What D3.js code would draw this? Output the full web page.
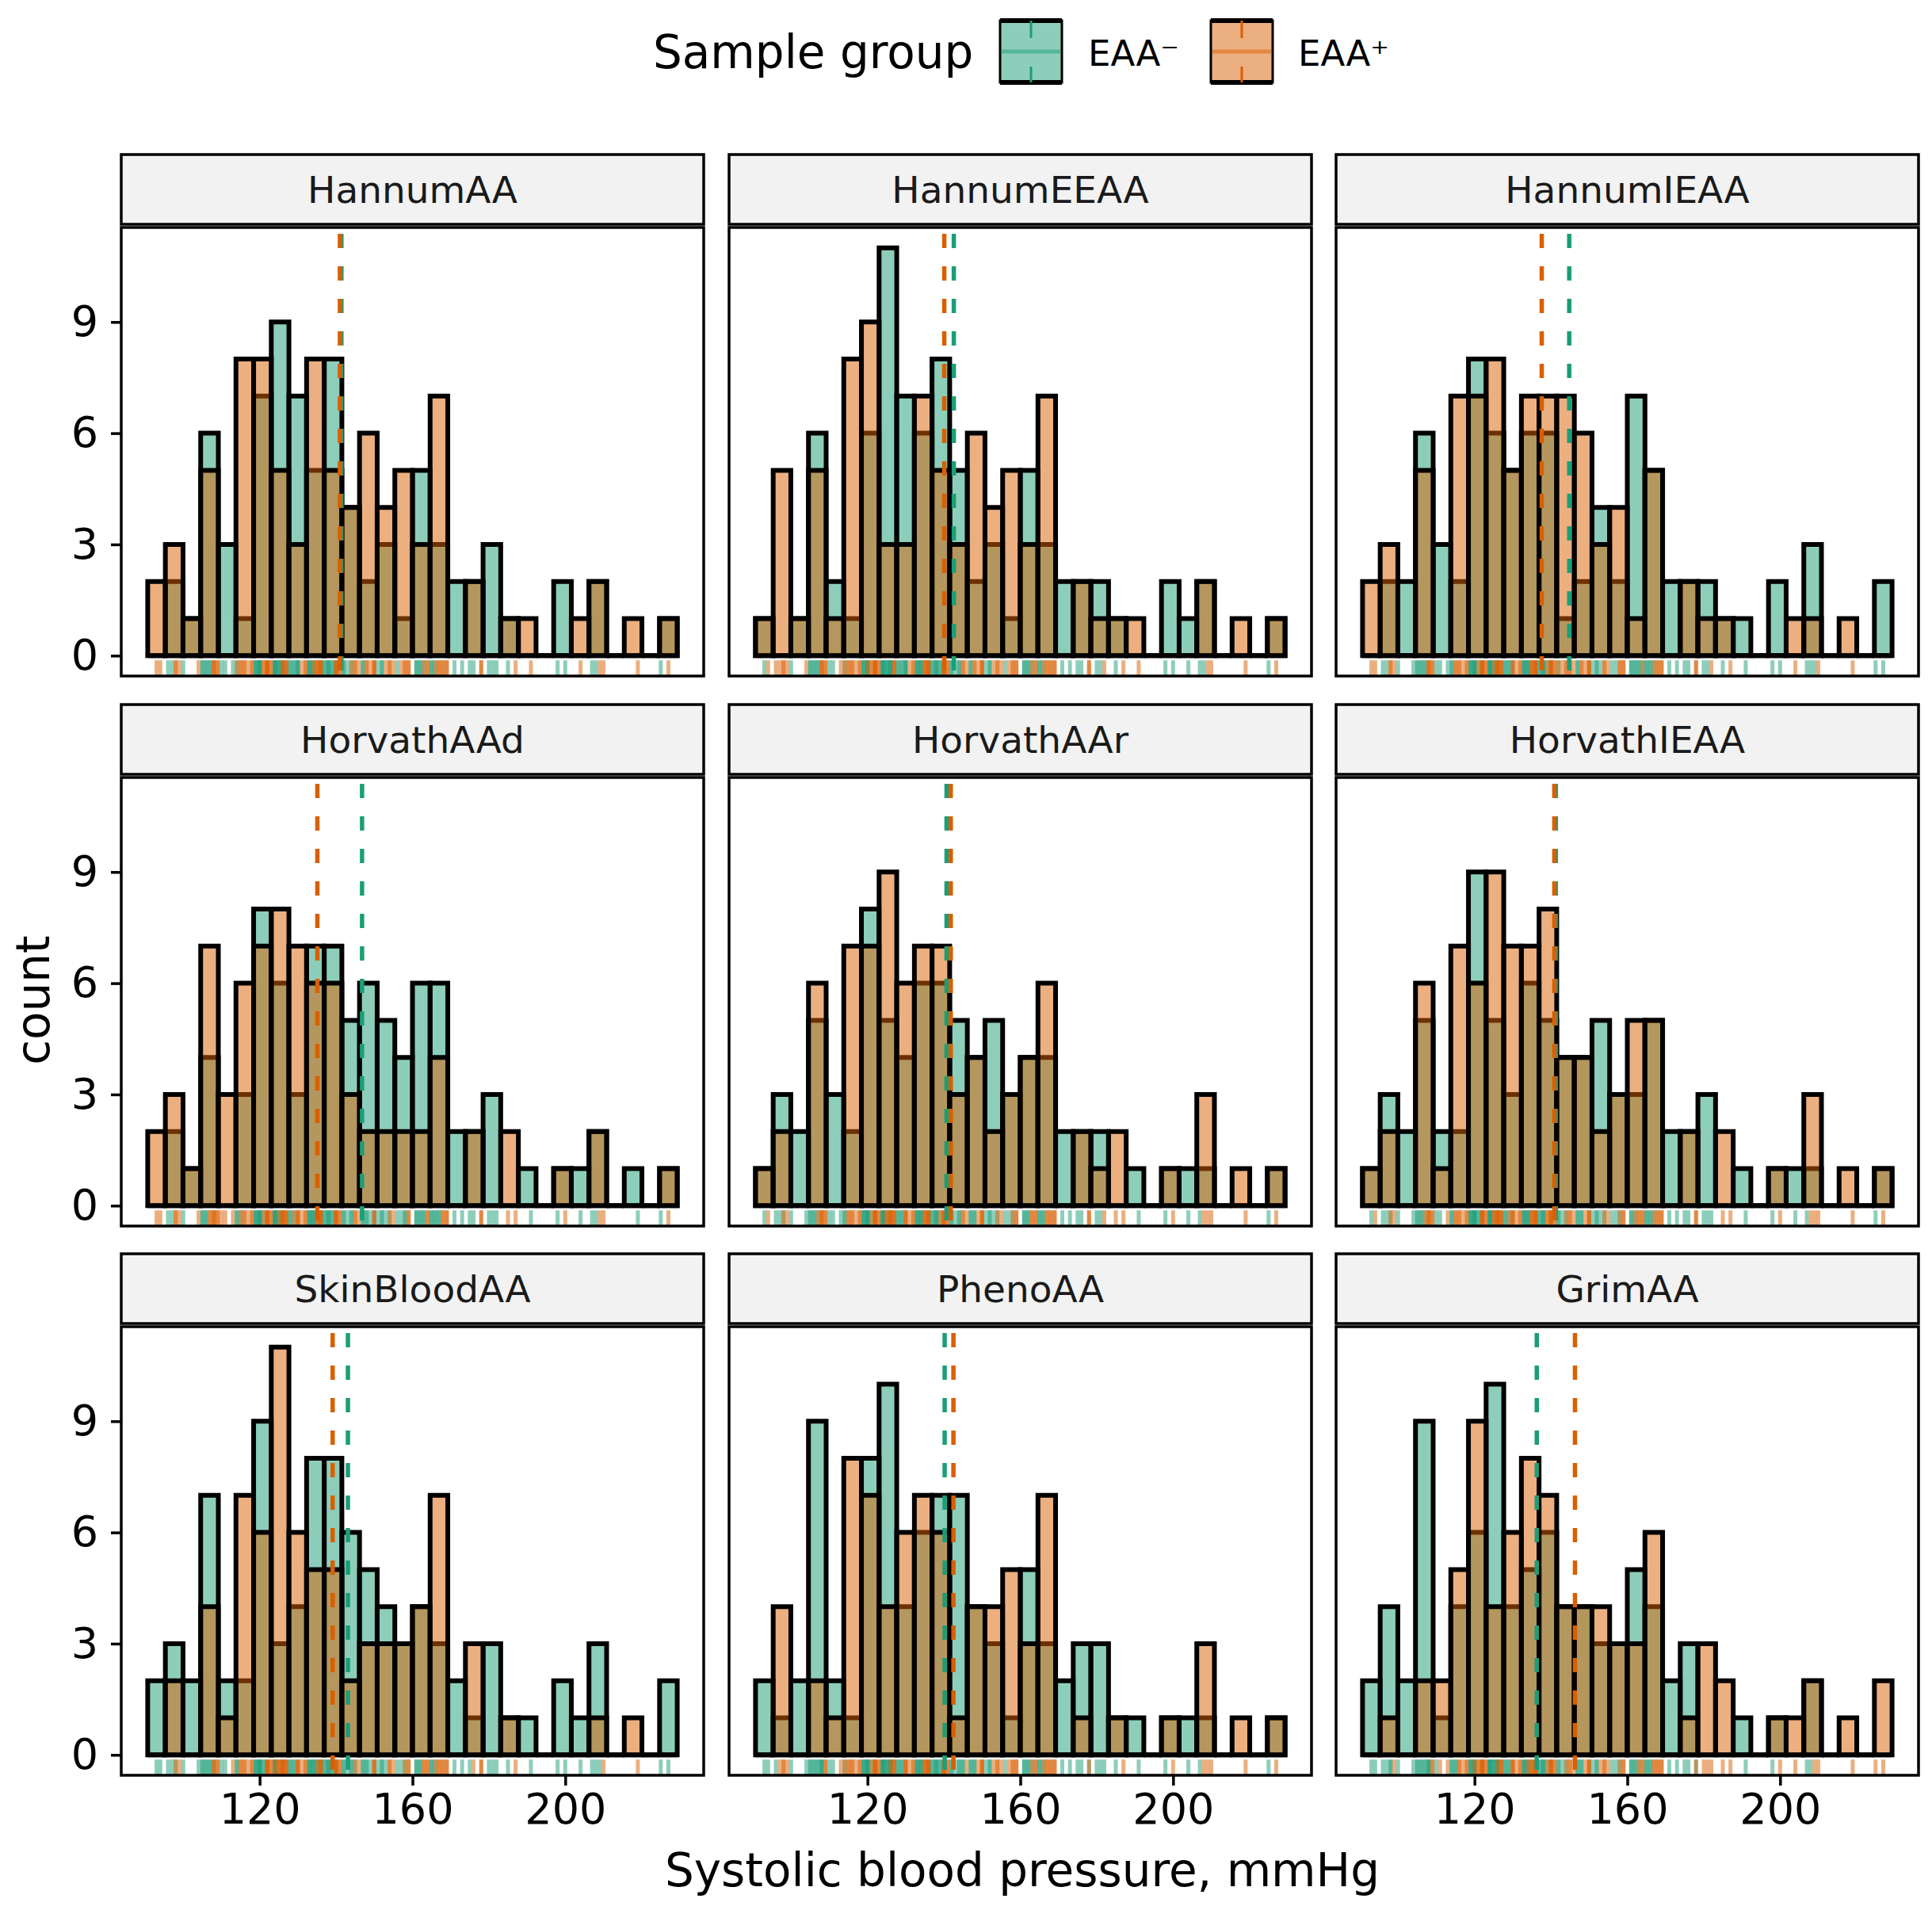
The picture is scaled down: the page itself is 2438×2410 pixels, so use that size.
<!DOCTYPE html>
<html>
<head>
<meta charset="utf-8">
<script src="https://cdn.jsdelivr.net/npm/d3@7"></script>
<style>
body { margin: 0; background: #fff; }
svg text { font-family: "DejaVu Sans", sans-serif; }
</style>
</head>
<body>
<script>
var clocks = ['HannumAA', 'HannumEEAA', 'HannumIEAA', 'HorvathAAd', 'HorvathAAr', 'HorvathIEAA', 'SkinBloodAA', 'PhenoAA', 'GrimAA'];
var groups = ['EAA\u207B', 'EAA\u207A'];
var colors = ['#1B9E77', '#D95F02'];
var yTicks = [0, 3, 6, 9];
var xTicks = [120, 160, 200];

var sbp = [93, 94, 96, 97, 98, 98, 99, 100, 104,
  105, 105, 106, 106, 107, 107, 108, 108, 108, 109, 109, 110, 111, 113,
  114, 114, 115, 115, 116, 116, 117, 118, 118,
  119, 119, 119, 120, 120, 120, 120, 121, 121, 122, 122, 122, 122, 123, 123,
  124, 124, 124, 124, 125, 125, 125, 126, 126, 126, 126, 127, 127, 127,
  128, 128, 129, 129, 130, 130, 130, 131, 132, 132,
  133, 133, 133, 134, 134, 134, 135, 135, 135, 136, 136, 136, 136,
  137, 137, 138, 138, 138, 139, 139, 140, 140, 140, 140, 141, 141,
  142, 142, 143, 144, 144, 145, 145, 146, 147, 147, 148, 148, 149, 150, 150, 150,
  151, 152, 152, 153, 154, 154, 155, 156, 157, 158, 158, 159, 159,
  161, 161, 162, 162, 163, 163, 164, 164, 165, 165, 166, 166, 167, 167, 168, 168, 169, 169,
  171, 173, 175, 176, 178, 178, 180, 181, 182, 185, 187, 191, 198, 200, 204,
  207, 208, 209, 210, 219, 225, 227];

// counts per bin (30 bins), EAA- and EAA+
var hannumAANeg = [0,2,1,6,3,1,7,9,7,5,8,4,2,3,1,5,3,2,2,3,1,0,0,2,0,2,0,0,0,1];
var hannumAAPos = [2,3,1,5,0,8,8,5,3,8,5,4,6,4,5,3,7,0,2,0,1,1,0,0,1,2,0,1,0,1];
var hannumEEAANeg = [1,0,1,6,2,1,6,11,7,6,8,5,2,3,1,5,3,2,2,2,1,0,0,2,1,2,0,0,0,1];
var hannumEEAAPos = [1,5,1,5,1,8,9,3,3,7,5,3,6,4,5,3,7,0,2,1,1,1,0,0,0,2,0,1,0,1];
var hannumIEAANeg = [0,2,2,6,3,2,8,6,5,6,6,1,2,4,2,7,5,2,2,2,1,1,0,2,0,3,0,0,0,2];
var hannumIEAAPos = [2,3,0,5,0,7,7,8,5,7,7,7,6,3,4,1,5,0,2,1,1,0,0,0,1,1,0,1,0,0];
var horvathAAdNeg = [0,2,1,4,0,3,8,6,3,7,7,5,6,5,4,6,6,2,2,3,0,1,0,1,1,2,0,1,0,1];
var horvathAAdPos = [2,3,1,7,3,6,7,8,7,6,6,3,2,2,2,2,4,0,2,0,2,0,0,1,0,2,0,0,0,1];
var horvathAArNeg = [1,3,2,5,3,2,8,5,4,6,6,5,4,5,3,4,4,2,2,2,0,1,0,1,1,1,0,0,0,1];
var horvathAArPos = [1,2,0,6,0,7,7,9,6,7,7,3,4,2,3,4,6,0,2,1,2,0,0,1,0,3,0,1,0,1];
var horvathIEAANeg = [1,3,2,5,2,2,9,5,3,6,5,4,4,5,3,3,5,2,2,3,0,1,0,1,1,1,0,0,0,1];
var horvathIEAAPos = [1,2,0,6,1,7,6,9,7,7,8,4,4,2,3,5,5,0,2,0,2,0,0,1,0,3,0,1,0,1];
var skinBloodAANeg = [2,3,2,7,2,2,9,3,4,8,8,6,5,4,3,4,3,2,1,3,1,1,0,2,1,3,0,0,0,2];
var skinBloodAAPos = [0,2,0,4,1,7,6,11,6,5,5,2,3,3,3,4,7,0,3,0,1,0,0,0,0,1,0,1,0,0];
var phenoAANeg = [2,1,2,9,2,1,8,10,4,6,7,7,4,3,1,5,3,2,3,3,1,1,0,1,1,1,0,0,0,1];
var phenoAAPos = [0,4,0,2,1,8,7,4,6,7,6,1,4,4,5,3,7,0,1,0,1,0,0,1,0,3,0,1,0,1];
var grimAANeg = [2,4,2,9,1,4,6,10,4,5,6,4,4,3,3,5,4,2,3,0,0,1,0,1,0,2,0,0,0,0];
var grimAAPos = [0,1,0,2,2,5,9,4,6,8,7,4,4,4,3,3,6,0,1,3,2,0,0,1,1,2,0,1,0,2];

// group means (dashed lines)
var meanNeg = [141.4, 142.6, 144.8, 146.8, 140.7, 141.3, 143.1, 140.2, 136.3];
var meanPos = [141.0, 140.1, 137.6, 135.1, 141.8, 140.9, 139.1, 142.5, 146.3];

var negCounts = [hannumAANeg, hannumEEAANeg, hannumIEAANeg, horvathAAdNeg, horvathAArNeg, horvathIEAANeg, skinBloodAANeg, phenoAANeg, grimAANeg];
var posCounts = [hannumAAPos, hannumEEAAPos, hannumIEAAPos, horvathAAdPos, horvathAArPos, horvathIEAAPos, skinBloodAAPos, phenoAAPos, grimAAPos];

// bins like ggplot (30 bins centred on min and max)
var nBins = 30;
var ext = d3.extent(sbp);
var bw = (ext[1] - ext[0]) / (nBins - 1);
var lo = ext[0] - bw / 2, hi = ext[1] + bw / 2;
var pad = (hi - lo) * 0.05;

var colX = [153, 920, 1686], panelW = 735;
var stripTop = [195, 889, 1582], stripH = 88, panelH = 566;

var svg = d3.select('body').append('svg').attr('width', 2438).attr('height', 2410);

function barPath(x0, x1, y0, y1) {
  return 'M' + x0 + ',' + y0 + 'H' + x1 + 'V' + y1 + 'H' + x0 + 'Z';
}

clocks.forEach(function(name, p) {
  var col = p % 3, row = Math.floor(p / 3);
  var left = colX[col], top = stripTop[row] + stripH + 4;
  var x = d3.scaleLinear().domain([lo - pad, hi + pad]).range([left, left + panelW]);
  var y = d3.scaleLinear().domain([-0.55, 11.55]).range([top + panelH, top]);

  // strip
  svg.append('rect').attr('x', left).attr('y', stripTop[row]).attr('width', panelW).attr('height', stripH)
    .attr('fill', '#f2f2f2').attr('stroke', 'black').attr('stroke-width', 3.5);
  svg.append('text').attr('x', left + panelW / 2).attr('y', stripTop[row] + stripH / 2 + 17)
    .attr('text-anchor', 'middle').attr('font-size', 47).attr('fill', '#1a1a1a').text(name);

  var g = svg.append('g');
  [negCounts[p], posCounts[p]].forEach(function(counts, k) {
    g.selectAll('path.bar' + k).data(counts).enter().append('path')
      .attr('d', function(c, i) {
        var x0 = lo + i * bw;
        return barPath(x(x0), x(x0 + bw), y(0), y(c));
      })
      .attr('fill', colors[k]).attr('fill-opacity', 0.5)
      .attr('stroke', 'black').attr('stroke-width', 6).attr('stroke-linejoin', 'miter');
  });

  // rug: inside each bin the first EAA- counts are EAA-
  var seen = d3.range(nBins).map(function() { return 0; });
  var rug = sbp.map(function(v) {
    var b = Math.min(nBins - 1, Math.floor((v - lo) / bw));
    var k = seen[b] < negCounts[p][b] ? 0 : 1;
    seen[b]++;
    return {v: v, k: k};
  });
  g.selectAll('line.rug').data(rug).enter().append('line')
    .attr('x1', function(d) { return x(d.v); }).attr('x2', function(d) { return x(d.v); })
    .attr('y1', top + panelH).attr('y2', top + panelH - panelH * 0.035)
    .attr('stroke', function(d) { return colors[d.k]; }).attr('stroke-opacity', 0.5).attr('stroke-width', 5);

  // mean lines
  [meanNeg[p], meanPos[p]].forEach(function(m, k) {
    g.append('line').attr('x1', x(m)).attr('x2', x(m)).attr('y1', top).attr('y2', top + panelH)
      .attr('stroke', colors[k]).attr('stroke-width', 5.5)
      .attr('stroke-dasharray', '18,23').attr('stroke-dashoffset', 33);
  });

  // panel border
  svg.append('rect').attr('x', left).attr('y', top).attr('width', panelW).attr('height', panelH)
    .attr('fill', 'none').attr('stroke', 'black').attr('stroke-width', 3.5);

  if (col === 0) {
    var ya = svg.append('g').attr('transform', 'translate(' + left + ',0)')
      .call(d3.axisLeft(y).tickValues(yTicks).tickSize(13).tickPadding(16));
    ya.select('.domain').remove();
    ya.selectAll('line').attr('stroke', 'black').attr('stroke-width', 3.5);
    ya.selectAll('text').attr('font-size', 54).attr('fill', 'black').attr('font-family', '"DejaVu Sans", sans-serif');
  }
  if (row === 2) {
    var xa = svg.append('g').attr('transform', 'translate(0,' + (top + panelH) + ')')
      .call(d3.axisBottom(x).tickValues(xTicks).tickSize(13).tickPadding(10));
    xa.select('.domain').remove();
    xa.selectAll('line').attr('stroke', 'black').attr('stroke-width', 3.5);
    xa.selectAll('text').attr('font-size', 54).attr('fill', 'black').attr('font-family', '"DejaVu Sans", sans-serif');
  }
});

// axis titles
svg.append('text').attr('x', 1290).attr('y', 2380).attr('text-anchor', 'middle').attr('font-size', 58)
  .text('Systolic blood pressure, mmHg');
svg.append('text').attr('transform', 'translate(62,1262) rotate(-90)').attr('text-anchor', 'middle')
  .attr('font-size', 58).text('count');

// legend
svg.append('text').attr('x', 824).attr('y', 86).attr('font-size', 58).text('Sample group');
var keyX = [1262, 1528], labX = [1373, 1638], keyY = 26, keyS = 78;
groups.forEach(function(gname, k) {
  var lg = svg.append('g');
  lg.append('rect').attr('x', keyX[k]).attr('y', keyY).attr('width', keyS).attr('height', keyS)
    .attr('fill', colors[k]).attr('fill-opacity', 0.5).attr('stroke', 'black').attr('stroke-width', 3);
  lg.append('line').attr('x1', keyX[k]).attr('x2', keyX[k] + keyS).attr('y1', keyY).attr('y2', keyY)
    .attr('stroke', 'black').attr('stroke-width', 6);
  lg.append('line').attr('x1', keyX[k]).attr('x2', keyX[k] + keyS).attr('y1', keyY + keyS).attr('y2', keyY + keyS)
    .attr('stroke', 'black').attr('stroke-width', 6);
  lg.append('line').attr('x1', keyX[k] + 2).attr('x2', keyX[k] + keyS - 2).attr('y1', keyY + keyS / 2).attr('y2', keyY + keyS / 2)
    .attr('stroke', colors[k]).attr('stroke-opacity', 0.5).attr('stroke-width', 5);
  lg.append('line').attr('x1', keyX[k] + keyS / 2).attr('x2', keyX[k] + keyS / 2).attr('y1', keyY).attr('y2', keyY + keyS)
    .attr('stroke', colors[k]).attr('stroke-width', 3).attr('stroke-dasharray', '22,36');
  lg.append('text').attr('x', labX[k]).attr('y', 83).attr('font-size', 45).text(gname);
});
</script>
</body>
</html>
